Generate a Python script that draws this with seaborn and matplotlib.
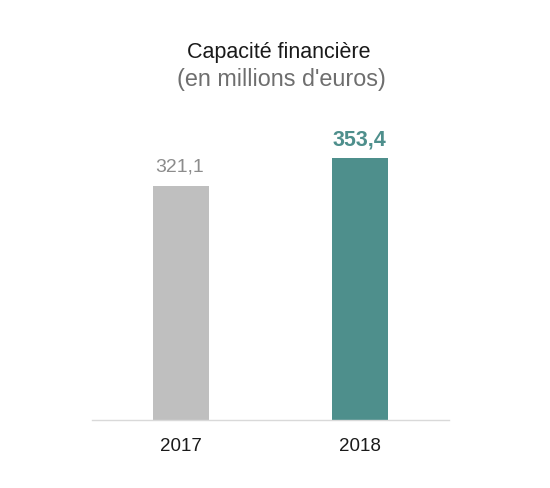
import matplotlib
matplotlib.use("Agg")
import matplotlib.pyplot as plt
import seaborn as sns
import pandas as pd

# Chart data
years = ["2017", "2018"]
values = [321.1, 353.4]
value_labels = ["321,1", "353,4"]
bar_colors = ["#BFBFBF", "#4E8F8C"]
label_colors = ["#8C8C8C", "#4E8F8C"]
label_weights = ["normal", "bold"]

TITLE = "Capacité financière"
SUBTITLE = "(en millions d'euros)"

sns.set_theme(style="white")
plt.rcParams["font.family"] = ["Liberation Sans", "DejaVu Sans"]

df = pd.DataFrame({"year": years, "value": values})

W, H = 550, 489
fig = plt.figure(figsize=(W / 100, H / 100), dpi=100)
# axes placed in pixel coordinates of the reference
ax = fig.add_axes([92 / W, 1 - 421 / H, (449 - 92) / W, (421 - 130) / H])

sns.barplot(data=df, x="year", y="value", hue="year", palette=bar_colors,
            width=0.315, legend=False, ax=ax, saturation=1, linewidth=0)

ax.set_xlim(-0.5, 1.5)
ax.set_ylim(51, 387)

label_sizes = [14, 15.5]
for i, (v, lab) in enumerate(zip(values, value_labels)):
    off = 16 if i == 0 else 14
    ax.annotate(lab, (i, v), xytext=(-1.5 if i == 0 else 0, off * 0.72),
                textcoords="offset points",
                ha="center", va="baseline", fontsize=label_sizes[i],
                color=label_colors[i], fontweight=label_weights[i])

sns.despine(ax=ax, left=True, top=True, right=True)
ax.spines["bottom"].set_color("#D9D9D9")
ax.spines["bottom"].set_linewidth(1)
ax.set_yticks([])
ax.set_xlabel("")
ax.set_ylabel("")
ax.tick_params(axis="x", length=0, labelsize=13.5, colors="#1A1A1A", pad=12)

fig.text(279 / W, 1 - 58 / H, TITLE, ha="center", va="baseline",
         fontsize=15.5, color="#1A1A1A")
fig.text(281 / W, 1 - 86 / H, SUBTITLE, ha="center", va="baseline",
         fontsize=16.8, color="#6E6E6E")

fig.savefig("out.png", dpi=100, facecolor="white")
